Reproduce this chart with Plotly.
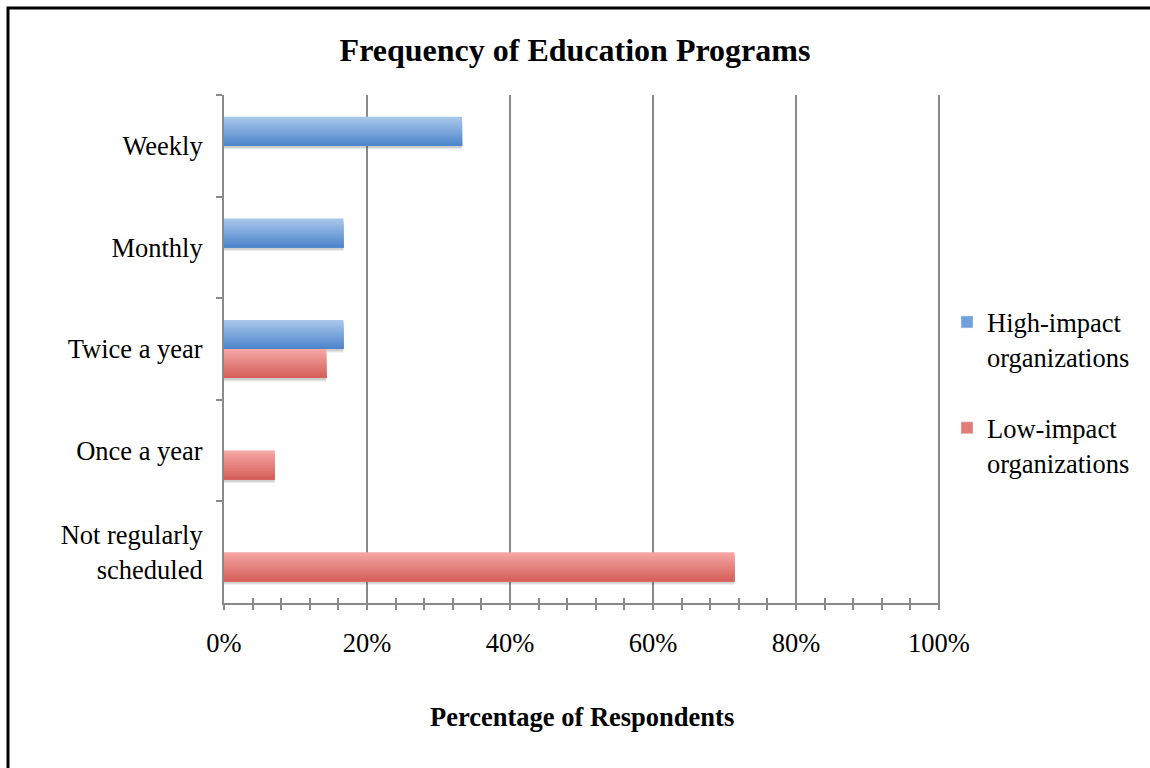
import plotly.graph_objects as go

# Survey results: how often organizations run education programs
categories = ["Weekly", "Monthly", "Twice a year", "Once a year", "Not regularly<br>scheduled"]
high_impact = [33.3, 16.7, 16.7, 0, 0]
low_impact = [0, 0, 14.3, 7.1, 71.4]
series_names = ["High-impact<br>organizations", "Low-impact<br>organizations"]
x_tick_vals = [0, 20, 40, 60, 80, 100]
x_tick_text = ["0%", "20%", "40%", "60%", "80%", "100%"]

W, H = 1150, 768
L, R, T, B = 224, 210, 95, 165
FONT = "Liberation Serif"
GRAY = "#8a8a8a"

# light-to-dark vertical gradients for each series (top colour, bottom colour)
gradients = [((168, 198, 235), (78, 134, 204)),
             ((245, 166, 164), (214, 96, 90))]
legend_colors = ["#6f9fdc", "#e27a76"]

BAR_W = 0.285   # bar thickness in category units
N_STRIPS = 14


def mix(c0, c1, t):
    return "rgb(%d,%d,%d)" % tuple(round(a + (b - a) * t) for a, b in zip(c0, c1))


fig = go.Figure()
for k, (vals, name) in enumerate(zip([high_impact, low_impact], series_names)):
    base = -BAR_W if k == 0 else 0.0
    # soft drop shadow under each bar
    for dy, alpha in [(0.035, 0.10), (0.022, 0.16)]:
        fig.add_trace(go.Bar(
            y=categories, x=vals, orientation="h",
            offset=base + dy, width=BAR_W,
            marker=dict(color="rgba(60,60,60,%.2f)" % alpha, line=dict(width=0)),
            showlegend=False, hoverinfo="skip"))
    # gradient fill, built from overlapping bands drawn top to bottom
    c_top, c_bot = gradients[k]
    for i in range(N_STRIPS):
        t = i / (N_STRIPS - 1)
        start = base + BAR_W * i / N_STRIPS
        fig.add_trace(go.Bar(
            y=categories, x=vals, orientation="h",
            offset=start, width=base + BAR_W - start,
            marker=dict(color=mix(c_top, c_bot, t), line=dict(width=0)),
            showlegend=False, name=name, hoverinfo="x"))
    # legend entry
    fig.add_trace(go.Bar(
        y=[None], x=[None], orientation="h", name=name,
        marker=dict(color=legend_colors[k]), legendgroup="g%d" % k,
        showlegend=True))

pw, ph = W - L - R, H - T - B

fig.update_layout(
    width=W, height=H,
    margin=dict(l=L, r=R, t=T, b=B, autoexpand=False),
    paper_bgcolor="white", plot_bgcolor="white",
    barmode="overlay",
    font=dict(family=FONT, size=26.5, color="black"),
    title=dict(text="<b>Frequency of Education Programs</b>",
               x=0.5, xanchor="center", xref="container",
               y=1 - 50 / H, yanchor="middle", yref="container",
               font=dict(family=FONT, size=32, color="black")),
    legend=dict(x=(947 - L) / pw, xanchor="left",
                y=0.415, yanchor="middle",
                font=dict(family=FONT, size=26.5, color="black"),
                tracegroupgap=34, itemwidth=30, valign="top",
                bgcolor="rgba(0,0,0,0)"),
    xaxis=dict(range=[0, 100.15], tickvals=x_tick_vals, ticktext=x_tick_text,
               showgrid=True, gridcolor=GRAY, gridwidth=2,
               showline=True, linecolor=GRAY, linewidth=2,
               ticks="outside", ticklen=5, tickwidth=2, tickcolor=GRAY,
               minor=dict(dtick=4, ticks="outside", ticklen=5, tickwidth=2,
                          tickcolor=GRAY, showgrid=False),
               ticklabelstandoff=10,
               zeroline=False, fixedrange=True),
    xaxis2=dict(range=[0, 100.15], overlaying="x", side="bottom", anchor="y",
                tickvals=x_tick_vals, showticklabels=False, showgrid=False,
                showline=False, ticks="inside", ticklen=5, tickwidth=2,
                tickcolor=GRAY,
                minor=dict(dtick=4, ticks="inside", ticklen=5, tickwidth=2,
                           tickcolor=GRAY, showgrid=False),
                zeroline=False),
    yaxis=dict(categoryorder="array", categoryarray=categories,
               autorange="reversed", showgrid=False,
               showline=True, linecolor=GRAY, linewidth=2,
               ticks="outside", ticklen=6, tickwidth=2, tickcolor=GRAY,
               tickson="boundaries", ticklabelstandoff=14, fixedrange=True),
    annotations=[dict(text="<b>Percentage of Respondents</b>",
                      x=0.5, xref="paper", xanchor="center",
                      y=1 - (717 - T) / ph, yref="paper", yanchor="middle",
                      showarrow=False,
                      font=dict(family=FONT, size=26.5, color="black"))],
)

# outer frame around the whole graphic
fig.add_shape(type="rect", xref="paper", yref="paper",
              x0=(8 - L) / pw, x1=(W + 20 - L) / pw,
              y0=1 + (T - 8) / ph, y1=-(B + 20) / ph,
              line=dict(color="black", width=3), fillcolor="rgba(0,0,0,0)",
              layer="above")

# blank trace so the overlaid tick axis is drawn
fig.add_trace(go.Scatter(x=[None], y=[None], xaxis="x2", showlegend=False,
                         hoverinfo="skip"))

fig.write_html("out.html")
